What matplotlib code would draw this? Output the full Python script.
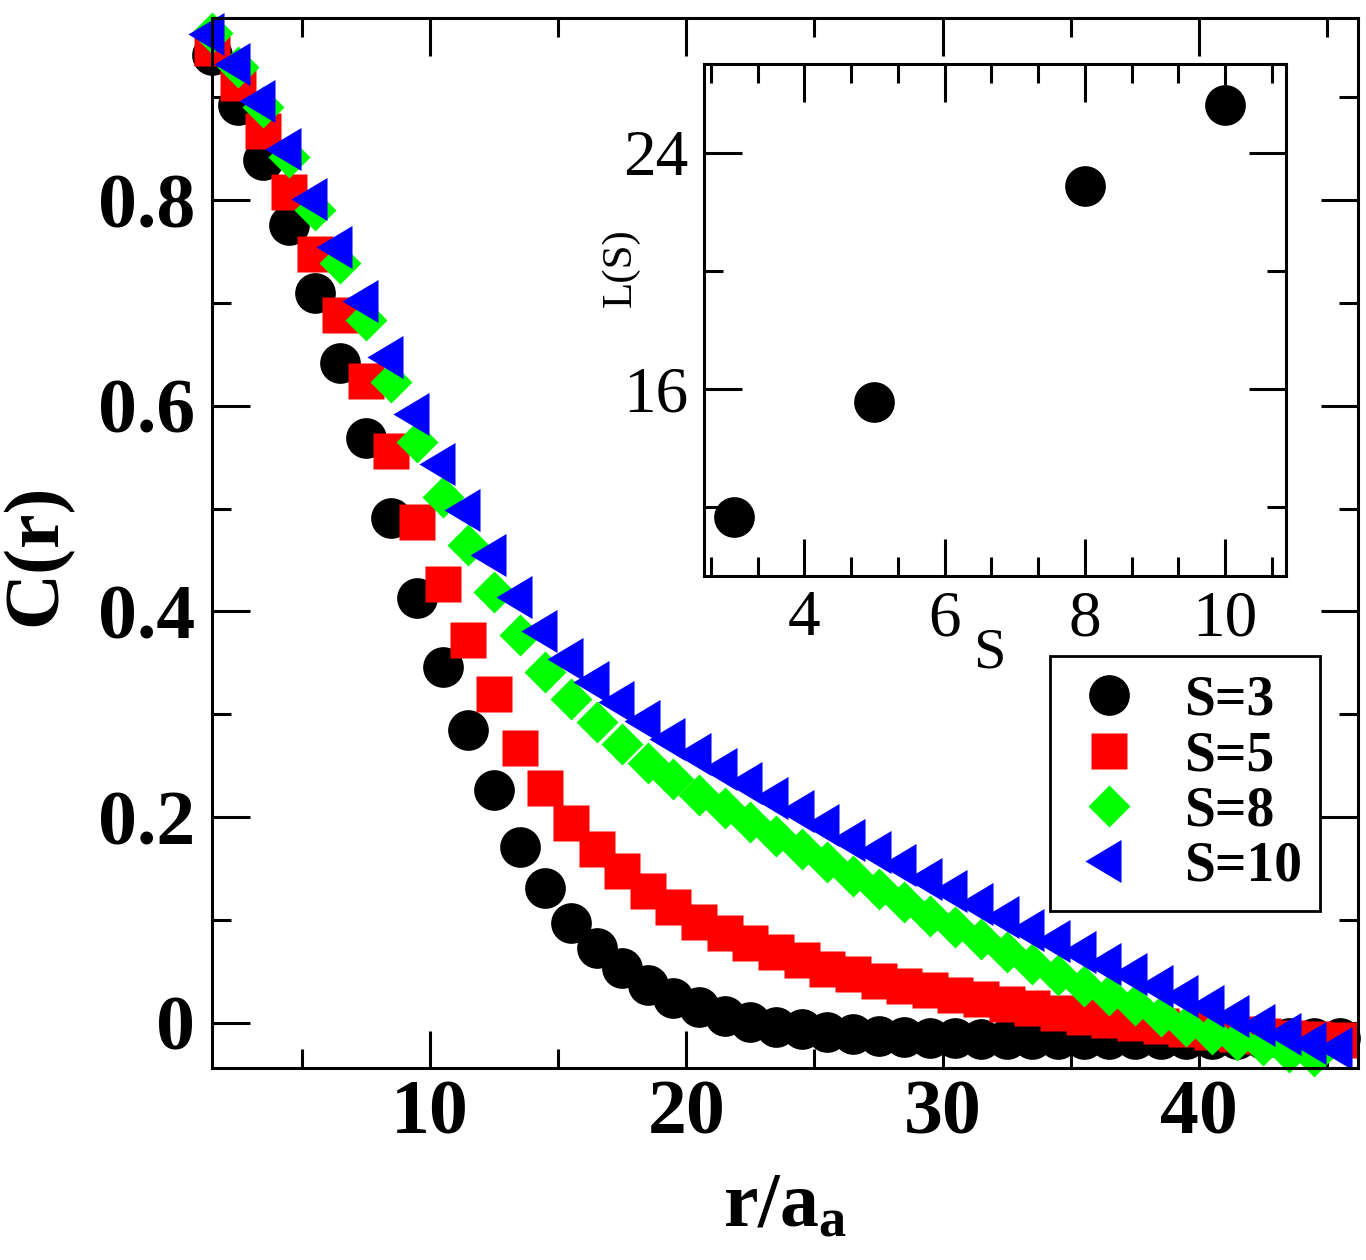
import numpy as np
import matplotlib
matplotlib.use('Agg')
import matplotlib.pyplot as plt
from matplotlib.ticker import FixedLocator, MultipleLocator, FormatStrFormatter

plt.rcParams['font.family'] = ['Liberation Serif', 'DejaVu Serif']
plt.rcParams['mathtext.fontset'] = 'custom'
plt.rcParams['mathtext.rm'] = 'Liberation Serif'
plt.rcParams['mathtext.bf'] = 'Liberation Serif:bold'

# distance r/a_a (same grid for all sets, S=8 stops one point earlier)
R = np.arange(1.5, 46.0, 1.0)

C_S3 = [0.941, 0.892, 0.839, 0.776, 0.710, 0.642, 0.569, 0.491, 0.413, 0.346,
        0.285, 0.226, 0.171, 0.131, 0.097, 0.073, 0.053, 0.037, 0.024, 0.015,
        0.007, 0.001, -0.004, -0.006, -0.009, -0.011, -0.013, -0.014, -0.015, -0.015,
        -0.016, -0.016, -0.016, -0.016, -0.016, -0.016, -0.016, -0.016, -0.016, -0.016,
        -0.016, -0.016, -0.015, -0.015, -0.015]
C_S5 = [0.948, 0.914, 0.867, 0.808, 0.748, 0.688, 0.624, 0.556, 0.487, 0.427,
        0.372, 0.320, 0.267, 0.228, 0.194, 0.169, 0.148, 0.128, 0.113, 0.098,
        0.087, 0.078, 0.069, 0.061, 0.052, 0.047, 0.041, 0.036, 0.032, 0.027,
        0.023, 0.018, 0.014, 0.009, 0.006, 0.003, 0.000, -0.003, -0.006, -0.009,
        -0.011, -0.013, -0.015, -0.016, -0.017]
C_S8 = [0.962, 0.929, 0.890, 0.842, 0.790, 0.739, 0.683, 0.623, 0.565, 0.511,
        0.465, 0.419, 0.377, 0.341, 0.315, 0.292, 0.271, 0.253, 0.237, 0.221,
        0.209, 0.195, 0.182, 0.169, 0.156, 0.143, 0.130, 0.117, 0.104, 0.093,
        0.081, 0.069, 0.057, 0.046, 0.036, 0.027, 0.017, 0.007, -0.003, -0.011,
        -0.017, -0.022, -0.028, -0.032]
C_S10 = [0.961, 0.932, 0.896, 0.850, 0.801, 0.754, 0.702, 0.647, 0.592, 0.543,
         0.499, 0.455, 0.414, 0.381, 0.354, 0.331, 0.312, 0.293, 0.276, 0.261,
         0.247, 0.233, 0.219, 0.206, 0.192, 0.178, 0.166, 0.153, 0.140, 0.128,
         0.115, 0.103, 0.090, 0.079, 0.069, 0.057, 0.047, 0.036, 0.026, 0.016,
         0.007, -0.002, -0.011, -0.020, -0.025]

# inset: correlation length vs S
S_VALUES = [3, 5, 8, 10]
L_VALUES = [11.67, 15.54, 22.88, 25.62]

# left triangle centred on its centroid (like xmgrace)
TRI = [(-24, 0), (12, 21.5), (12, -21.5), (-24, 0)]

fig = plt.figure(figsize=(13.66, 12.6), dpi=100)
ax = fig.add_axes([0.1552, 0.1524, 0.8389, 0.8333])

ax.plot(R, C_S3, ls='none', marker='o', ms=29.3, color='black', mec='none',
        clip_on=False, label='S=3')
ax.plot(R, C_S5, ls='none', marker='s', ms=25.5, color='red', mec='none',
        clip_on=False, label='S=5')
ax.plot(R[:len(C_S8)], C_S8, ls='none', marker='D', ms=21, color='#00ff00',
        mec='none', clip_on=False, label='S=8')
ax.plot(R, C_S10, ls='none', marker=TRI, ms=34.6, color='blue', mec='none',
        clip_on=False, label='S=10')

ax.set_xlim(1.5, 46.2)
ax.set_ylim(-0.044, 0.977)
ax.xaxis.set_major_locator(FixedLocator([10, 20, 30, 40]))
ax.xaxis.set_minor_locator(MultipleLocator(5))
ax.yaxis.set_major_locator(FixedLocator([0, 0.2, 0.4, 0.6, 0.8]))
ax.yaxis.set_minor_locator(FixedLocator([0.1, 0.3, 0.5, 0.7, 0.9]))
ax.yaxis.set_major_formatter(FormatStrFormatter('%g'))
ax.tick_params(which='both', direction='in', top=True, right=True, width=2.2)
ax.tick_params(which='major', length=27)
ax.tick_params(which='minor', length=13.5)
ax.tick_params(axis='x', labelsize=56, pad=8)
ax.tick_params(axis='y', labelsize=56, pad=12)
for lab in ax.get_xticklabels() + ax.get_yticklabels():
    lab.set_fontweight('bold')
for sp in ax.spines.values():
    sp.set_linewidth(2.2)

ax.set_ylabel('C(r)', fontsize=56, fontweight='bold')
ax.yaxis.set_label_coords(-0.122, 0.489)
ax.set_xlabel(r'$\mathbf{r/a_a}$', fontsize=56)
ax.xaxis.set_label_coords(0.5, -0.099)

leg = ax.legend(loc='upper right', bbox_to_anchor=(0.967, 0.392), borderaxespad=0,
                prop={'weight': 'bold', 'size': 40}, frameon=True, fancybox=False,
                borderpad=0.33, handlelength=1.45, handletextpad=0.62,
                labelspacing=0.06, numpoints=1)
leg.get_frame().set_edgecolor('black')
leg.get_frame().set_linewidth(2.0)
leg.get_frame().set_alpha(None)

# inset
axi = fig.add_axes([0.5154, 0.5429, 0.4261, 0.4063])
axi.plot(S_VALUES, L_VALUES, ls='none', marker='o', ms=29.3, color='black',
         mec='none', clip_on=False)
axi.set_xlim(2.57, 10.87)
axi.set_ylim(9.66, 27.0)
axi.xaxis.set_major_locator(FixedLocator([4, 6, 8, 10]))
axi.xaxis.set_minor_locator(FixedLocator([8/3, 10/3, 14/3, 16/3, 20/3, 22/3,
                                          26/3, 28/3, 32/3]))
axi.yaxis.set_major_locator(FixedLocator([16, 24]))
axi.yaxis.set_minor_locator(FixedLocator([12, 20]))
axi.tick_params(which='both', direction='in', top=True, right=True, width=2.2)
axi.tick_params(which='major', length=27)
axi.tick_params(which='minor', length=13.5)
axi.tick_params(axis='x', labelsize=47, pad=10)
axi.tick_params(axis='y', labelsize=47, pad=11)
for sp in axi.spines.values():
    sp.set_linewidth(2.2)
axi.set_xlabel('S', fontsize=42)
axi.xaxis.set_label_coords(0.49, -0.1)
axi.set_ylabel('L(S)', fontsize=31)
axi.yaxis.set_label_coords(-0.11, 0.603)

fig.savefig('out.png', dpi=100)
